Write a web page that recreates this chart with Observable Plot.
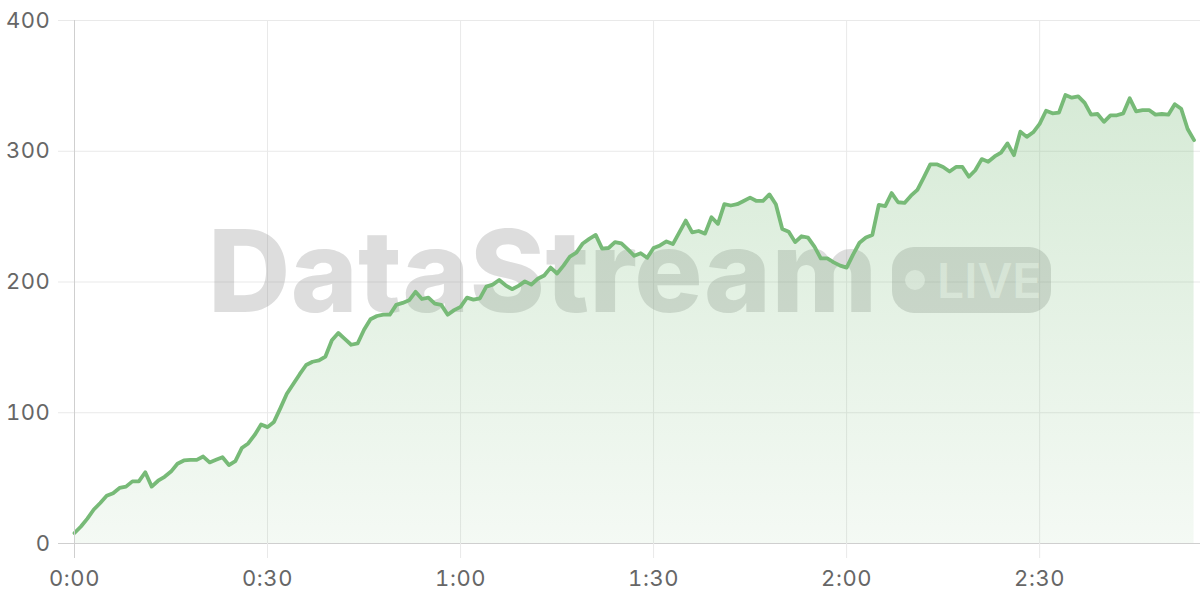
<!DOCTYPE html>
<html><head><meta charset="utf-8">
<script src="https://cdn.jsdelivr.net/npm/d3@7"></script>
<script src="https://cdn.jsdelivr.net/npm/@observablehq/plot@0.6"></script>
<style>
html,body{margin:0;padding:0;background:#fff;}
#chart svg{display:block;}
</style></head><body><div id="chart"></div>
<script>
const values = [
  8,13,19,26,31,36.5,38.5,42.5,43.5,47.5,
  47.5,54.5,43.5,48,51,55,61,63.5,64,64,
  66.5,62,64,66,60,63,73,76.5,83,91,
  89,93,103.5,114.5,122,129.5,136.5,139,140,143,
  155.5,161,156.5,152,153,163.5,171.5,174,175,175,
  182.5,184,186,192.5,187,188,183.5,182.5,175,178.5,
  181,188,186.5,187.5,196.5,198,201.5,197.5,194.5,197,
  200.5,198,202.5,205,211,206.5,212.5,219.5,222.5,229.5,
  233,236,225.5,226,230.5,229.5,225,220,222,218.5,
  226,228,231,229,238,247,238,239,237,249.5,
  244.5,259.5,258.5,259.5,262,264.5,262,262,267,259.5,
  240.5,238.5,230.5,235,234,227,218,218,215,212.5,
  211,221,230,234,236,259,258,268,261,260.5,
  266,270.5,280,290,290,288,284.5,288,288,280.5,
  285.5,294,292,296,299,306,297,315,311,314.5,
  321,331,329,329.5,343,341,342,337,328,328.5,
  322.5,327.5,327.5,329,340.5,330.5,331.5,331.5,328,328.5,
  328,336,332.5,317,308.5
];
const xTicks = [0, 30, 60, 90, 120, 150];
const yTicks = [0, 100, 200, 300, 400];
const watermarkTitle = "DataStream";
const watermarkBadge = "LIVE";

const fmt = s => `${Math.floor(s / 60)}:${String(s % 60).padStart(2, "0")}`;
const data = values.map((v, i) => ({t: i, v}));

const lineColor = "#77ba77";
const gridColor = "#e9e9e9";
const axisColor = "#cfcfcf";
const font = "Inter, 'Noto Sans', sans-serif";

const gradient = () => {
  const defs = d3.create("svg:defs");
  const g = defs.append("linearGradient").attr("id", "areaFill")
    .attr("x1", 0).attr("x2", 0).attr("y1", 0).attr("y2", 1);
  g.append("stop").attr("offset", "0%").attr("stop-color", lineColor).attr("stop-opacity", 0.3);
  g.append("stop").attr("offset", "100%").attr("stop-color", lineColor).attr("stop-opacity", 0.08);
  return defs.node();
};

const watermark = (index, scales, channels, dims) => {
  const cx = (dims.marginLeft + dims.width - dims.marginRight) / 2;
  const cy = (dims.marginTop + dims.height - dims.marginBottom) / 2;
  const g = d3.create("svg:g").attr("font-family", font).attr("text-anchor", "start").attr("letter-spacing", 0);
  g.append("text").attr("x", cx - 429).attr("y", cy + 30.5)
    .attr("font-size", 114).attr("font-weight", 800).attr("letter-spacing", 0.3)
    .attr("fill", "#8a8a8a").attr("fill-opacity", 0.29).text(watermarkTitle);
  g.append("rect").attr("x", cx + 255).attr("y", cy - 34.5).attr("width", 159).attr("height", 66)
    .attr("rx", 22).attr("fill", "#8a8a8a").attr("fill-opacity", 0.3);
  g.append("circle").attr("cx", cx + 278).attr("cy", cy - 1.5).attr("r", 10)
    .attr("fill", "#fff").attr("fill-opacity", 0.6);
  g.append("text").attr("x", cx + 300).attr("y", cy + 16)
    .attr("font-size", 48).attr("font-weight", 600)
    .attr("fill", "#fff").attr("fill-opacity", 0.6).text(watermarkBadge);
  return g.node();
};

const axisStyle = {fontSize: 22, color: "#666", label: null};

const chart = Plot.plot({
  width: 1200,
  height: 600,
  marginLeft: 74,
  marginRight: 0,
  marginTop: 20,
  marginBottom: 57,
  style: {fontFamily: font, background: "#fff", overflow: "visible", letterSpacing: "0.6px"},
  x: {domain: [0, 175]},
  y: {domain: [0, 400]},
  marks: [
    gradient,
    Plot.gridY(yTicks.slice(1), {stroke: gridColor, strokeOpacity: 1}),
    Plot.gridX(xTicks.slice(1), {stroke: gridColor, strokeOpacity: 1}),
    watermark,
    Plot.areaY(data, {x: "t", y: "v", fill: "url(#areaFill)", curve: "linear"}),
    Plot.line(data, {x: "t", y: "v", stroke: lineColor, strokeWidth: 3.8, strokeLinejoin: "round", curve: "linear"}),
    Plot.ruleX([0], {stroke: axisColor}),
    Plot.ruleY([0], {stroke: axisColor}),
    Plot.axisY(yTicks.slice(1), {tickSize: 16, tickPadding: 8, stroke: gridColor, strokeOpacity: 1, ...axisStyle}),
    Plot.axisY([0], {tickSize: 16, tickPadding: 8, stroke: axisColor, strokeOpacity: 1, ...axisStyle}),
    Plot.axisX(xTicks.slice(1), {tickSize: 15, tickPadding: 12, stroke: gridColor, strokeOpacity: 1, tickFormat: fmt, ...axisStyle}),
    Plot.axisX([0], {tickSize: 15, tickPadding: 12, stroke: axisColor, strokeOpacity: 1, tickFormat: fmt, ...axisStyle})
  ]
});
document.getElementById("chart").appendChild(chart);
</script>
</body></html>
